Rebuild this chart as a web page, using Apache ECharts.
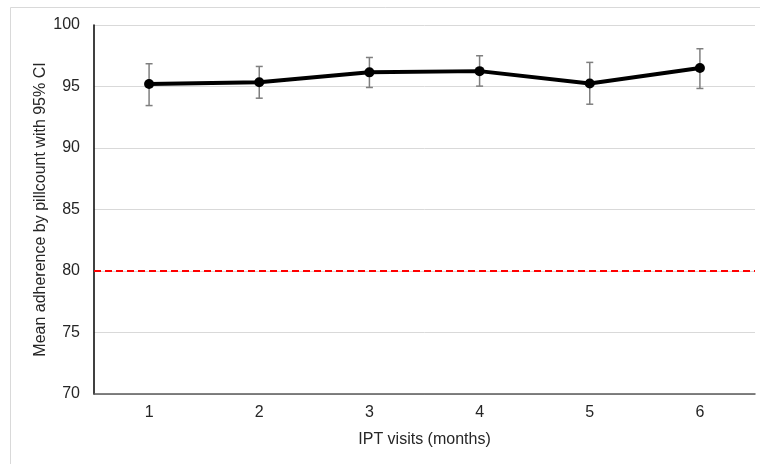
<!DOCTYPE html>
<html>
<head>
<meta charset="utf-8">
<script src="https://cdn.jsdelivr.net/npm/echarts@6/dist/echarts.min.js"></script>
<style>html,body{margin:0;padding:0;background:#fff}#c{width:760px;height:464px}</style>
</head>
<body>
<div id="c"></div>
<script>
var categories = ['1', '2', '3', '4', '5', '6'];
var meanValues = [95.2, 95.35, 96.15, 96.25, 95.25, 96.5];
var ciLower = [93.45, 94.05, 94.92, 95.03, 93.56, 94.84];
var ciUpper = [96.85, 96.63, 97.36, 97.5, 96.96, 98.07];
var yTicks = [70, 75, 80, 85, 90, 95, 100];
var threshold = 80;

var chart = echarts.init(document.getElementById('c'), null, {renderer: 'canvas'});
var font = 'Liberation Sans, Arial, sans-serif';
var errData = categories.map(function (c, i) { return [i, ciLower[i], ciUpper[i]]; });

chart.setOption({
  animation: false,
  backgroundColor: '#fff',
  graphic: [{
    type: 'rect', silent: true, z: -10,
    shape: {x: 10.5, y: 7.5, width: 800, height: 500},
    style: {fill: 'none', stroke: '#d9d9d9', lineWidth: 1}
  }],
  grid: {left: 94, right: 5, top: 25, bottom: 70},
  xAxis: {
    type: 'category', data: categories, boundaryGap: true,
    name: 'IPT visits (months)', nameLocation: 'middle', nameGap: 38,
    nameMoveOverlap: false,
    nameTextStyle: {fontFamily: font, fontSize: 16, color: '#262626'},
    axisLine: {lineStyle: {color: '#595959', width: 1.5}},
    axisTick: {show: false},
    axisLabel: {fontFamily: font, fontSize: 16, color: '#262626', margin: 11}
  },
  yAxis: {
    type: 'value', min: yTicks[0], max: yTicks[yTicks.length - 1], interval: 5,
    name: 'Mean adherence by pillcount with 95% CI', nameLocation: 'middle', nameGap: 45,
    nameMoveOverlap: false,
    nameTextStyle: {fontFamily: font, fontSize: 16, color: '#262626'},
    axisLine: {show: true, lineStyle: {color: '#000', width: 1.5}},
    axisTick: {show: false},
    axisLabel: {fontFamily: font, fontSize: 16, color: '#262626', margin: 14},
    splitLine: {lineStyle: {color: '#d9d9d9', width: 1}}
  },
  series: [{
    type: 'custom', z: 3,
    data: errData,
    renderItem: function (params, api) {
      var x = api.value(0);
      var lo = api.coord([x, api.value(1)]);
      var hi = api.coord([x, api.value(2)]);
      var hw = 3.5;
      var st = {stroke: '#7f7f7f', lineWidth: 1.5};
      return {type: 'group', children: [
        {type: 'line', shape: {x1: lo[0], y1: lo[1], x2: hi[0], y2: hi[1]}, style: st},
        {type: 'line', shape: {x1: lo[0] - hw, y1: lo[1], x2: lo[0] + hw, y2: lo[1]}, style: st},
        {type: 'line', shape: {x1: hi[0] - hw, y1: hi[1], x2: hi[0] + hw, y2: hi[1]}, style: st}
      ]};
    }
  }, {
    type: 'line', z: 4,
    data: meanValues,
    symbol: 'circle', symbolSize: 10,
    lineStyle: {color: '#000', width: 4},
    itemStyle: {color: '#000'},
    markLine: {
      silent: true, symbol: ['none', 'none'], label: {show: false},
      lineStyle: {color: '#ff0000', type: [7, 4], width: 2},
      data: [{yAxis: threshold}]
    }
  }]
});
</script>
</body>
</html>
